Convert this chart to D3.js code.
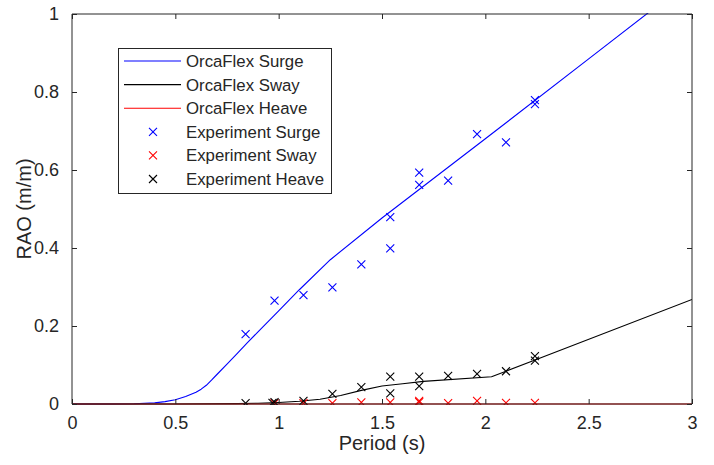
<!DOCTYPE html>
<html>
<head>
<meta charset="utf-8">
<script src="https://cdn.jsdelivr.net/npm/d3@7"></script>
<style>
  html, body { margin: 0; padding: 0; background: #fff; }
  svg { display: block; font-family: "Liberation Sans", Arial, sans-serif; }
</style>
</head>
<body>
<svg id="chart" width="714" height="465"></svg>
<script>
// OrcaFlex simulated RAOs
const surgePeriod = [0, 0.1, 0.2, 0.3, 0.4, 0.45, 0.5, 0.55, 0.6, 0.625, 0.65, 0.675, 0.7, 0.75, 0.8, 0.85, 0.9, 1.0, 1.1, 1.25, 1.5, 2.0, 2.5, 3.0];
const surgeRAO    = [0, 0, 0, 0.0005, 0.003, 0.006, 0.011, 0.019, 0.03, 0.038, 0.048, 0.061, 0.075, 0.102, 0.13, 0.158, 0.185, 0.239, 0.293, 0.37, 0.477, 0.68, 0.885, 1.09];

const swayPeriod = [0, 0.5, 0.8, 0.9, 1.0, 1.1, 1.2, 1.3, 1.4, 1.5, 1.6, 1.7, 2.03, 2.1, 2.25, 3.0];
const swayRAO    = [0, 0, 0.001, 0.002, 0.004, 0.007, 0.012, 0.022, 0.035, 0.046, 0.052, 0.058, 0.07, 0.084, 0.115, 0.268];

const heavePeriod = [0, 3.0];
const heaveRAO    = [0, 0];

// Experimental measurements
const expSurgePeriod = [0.84, 0.98, 1.12, 1.26, 1.40, 1.54, 1.54, 1.68, 1.68, 1.82, 1.96, 2.10, 2.24, 2.24];
const expSurgeRAO    = [0.179, 0.265, 0.279, 0.299, 0.358, 0.399, 0.479, 0.562, 0.593, 0.573, 0.692, 0.671, 0.769, 0.779];

const expSwayPeriod = [0.98, 1.12, 1.26, 1.40, 1.54, 1.68, 1.68, 1.82, 1.96, 2.10, 2.24];
const expSwayRAO    = [0.002, 0.002, 0.002, 0.004, 0.004, 0.005, 0.008, 0.002, 0.008, 0.003, 0.003];

const expHeavePeriod = [0.84, 0.97, 0.98, 1.12, 1.26, 1.40, 1.54, 1.54, 1.68, 1.68, 1.82, 1.96, 2.10, 2.24, 2.24];
const expHeaveRAO    = [0.002, 0.003, 0.005, 0.008, 0.026, 0.043, 0.027, 0.07, 0.046, 0.07, 0.072, 0.077, 0.084, 0.111, 0.123];

const xTicks = [0, 0.5, 1, 1.5, 2, 2.5, 3];
const yTicks = [0, 0.2, 0.4, 0.6, 0.8, 1];

const legendLabels = ["OrcaFlex Surge", "OrcaFlex Sway", "OrcaFlex Heave",
                      "Experiment Surge", "Experiment Sway", "Experiment Heave"];

const BLUE = "#0000ff", BLACK = "#000000", RED = "#ff0000", AXIS = "#262626";
const FONT = "'Liberation Sans', Arial, sans-serif";

const svg = d3.select("#chart");
const plotLeft = 72, plotRight = 692, plotTop = 14, plotBottom = 404;

const x = d3.scaleLinear().domain([0, 3]).range([plotLeft, plotRight]);
const y = d3.scaleLinear().domain([0, 1]).range([plotBottom, plotTop]);

svg.append("defs").append("clipPath").attr("id", "plotClip")
  .append("rect").attr("x", plotLeft).attr("y", plotTop - 1)
  .attr("width", plotRight - plotLeft).attr("height", plotBottom - plotTop + 2);

const plot = svg.append("g").attr("clip-path", "url(#plotClip)");

const zip = (px, py) => px.map((p, i) => [p, py[i]]);
const line = d3.line().x(d => x(d[0])).y(d => y(d[1]));

const lines = [
  { data: zip(surgePeriod, surgeRAO), color: BLUE },
  { data: zip(swayPeriod, swayRAO), color: BLACK },
  { data: zip(heavePeriod, heaveRAO), color: RED }
];
lines.forEach(s => {
  plot.append("path").attr("d", line(s.data))
    .attr("fill", "none").attr("stroke", s.color).attr("stroke-width", 1.1)
    .attr("stroke-linejoin", "round");
});

function cross(g, cx, cy, color) {
  const r = 4;
  g.append("path")
    .attr("d", `M${cx - r},${cy - r}L${cx + r},${cy + r}M${cx - r},${cy + r}L${cx + r},${cy - r}`)
    .attr("stroke", color).attr("stroke-width", 1.1).attr("fill", "none");
}

const markers = [
  { data: zip(expSurgePeriod, expSurgeRAO), color: BLUE },
  { data: zip(expSwayPeriod, expSwayRAO), color: RED },
  { data: zip(expHeavePeriod, expHeaveRAO), color: BLACK }
];
markers.forEach(s => {
  s.data.forEach(d => cross(plot, x(d[0]), y(d[1]), s.color));
});

// Axes with inward ticks on all four sides
const fmt = d => d3.format("")(d);
const xAxis = svg.append("g").attr("transform", `translate(0,${plotBottom})`)
  .call(d3.axisBottom(x).tickValues(xTicks).tickSize(-5).tickPadding(12).tickFormat(fmt));
const xAxisTop = svg.append("g").attr("transform", `translate(0,${plotTop})`)
  .call(d3.axisTop(x).tickValues(xTicks).tickSize(-5).tickFormat(""));
const yAxis = svg.append("g").attr("transform", `translate(${plotLeft},0)`)
  .call(d3.axisLeft(y).tickValues(yTicks).tickSize(-5).tickPadding(13).tickFormat(fmt));
const yAxisRight = svg.append("g").attr("transform", `translate(${plotRight},0)`)
  .call(d3.axisRight(y).tickValues(yTicks).tickSize(-5).tickFormat(""));

[xAxis, xAxisTop, yAxis, yAxisRight].forEach(a => {
  a.select(".domain").attr("stroke", AXIS).attr("stroke-width", 1);
  a.selectAll(".tick line").attr("stroke", AXIS);
  a.selectAll(".tick text").attr("fill", AXIS).style("font-size", "18px")
    .style("font-family", FONT);
});
xAxis.selectAll(".domain").attr("d", `M${plotLeft},0H${plotRight}`);
xAxisTop.selectAll(".domain").attr("d", `M${plotLeft},0H${plotRight}`);
yAxis.selectAll(".domain").attr("d", `M0,${plotBottom}V${plotTop}`);
yAxisRight.selectAll(".domain").attr("d", `M0,${plotBottom}V${plotTop}`);

// Axis titles
svg.append("text").attr("x", (plotLeft + plotRight) / 2).attr("y", 450)
  .attr("text-anchor", "middle").attr("fill", AXIS).style("font-size", "20px")
  .text("Period (s)");
svg.append("text")
  .attr("transform", `translate(31,${(plotTop + plotBottom) / 2}) rotate(-90)`)
  .attr("text-anchor", "middle").attr("fill", AXIS).style("font-size", "20px")
  .text("RAO (m/m)");

// Legend
const lg = svg.append("g");
lg.append("rect").attr("x", 118.5).attr("y", 48.5).attr("width", 213).attr("height", 145)
  .attr("fill", "#fff").attr("stroke", AXIS).attr("stroke-width", 1);
const legendColors = [BLUE, BLACK, RED, BLUE, RED, BLACK];
const rowY = d3.scaleLinear().domain([0, 5]).range([61, 179]);
legendLabels.forEach((lab, i) => {
  const ry = rowY(i);
  if (i < 3) {
    lg.append("line").attr("x1", 124).attr("x2", 181).attr("y1", ry).attr("y2", ry)
      .attr("stroke", legendColors[i]).attr("stroke-width", 1.1);
  } else {
    cross(lg, 153, ry, legendColors[i]);
  }
  lg.append("text").attr("x", 186).attr("y", ry + 6).attr("fill", AXIS)
    .style("font-size", "16.8px").text(lab);
});
</script>
</body>
</html>
